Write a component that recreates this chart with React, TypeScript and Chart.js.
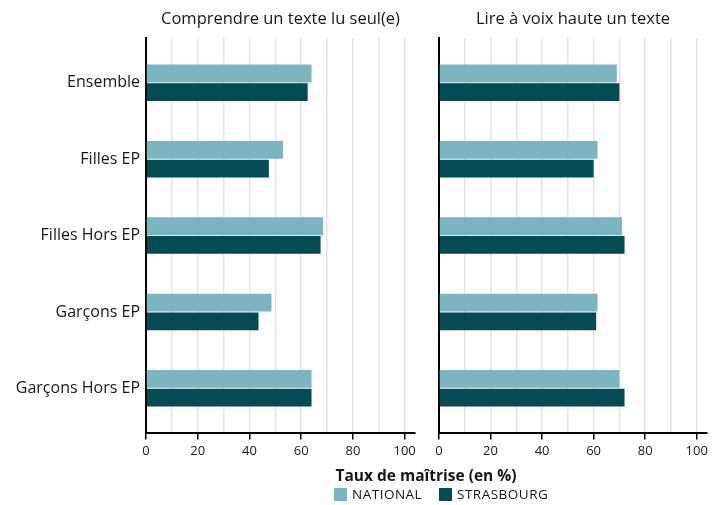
import React, { useEffect, useRef } from "react";
import { Chart, registerables } from "chart.js";

Chart.register(...registerables);

const categories = ["Ensemble", "Filles EP", "Filles Hors EP", "Garçons EP", "Garçons Hors EP"];
const comprendreNational = [64, 53, 68.5, 48.5, 64];
const comprendreStrasbourg = [62.5, 47.5, 67.5, 43.5, 64];
const lireNational = [69, 61.5, 71, 61.5, 70];
const lireStrasbourg = [70, 60, 72, 61, 72];
const xTickValues = [0, 10, 20, 30, 40, 50, 60, 70, 80, 90, 100];
const seriesNames = ["NATIONAL", "STRASBOURG"];
const seriesColors = ["#7ab5c0", "#054b53"];

const FONT = "'Open Sans', 'DejaVu Sans', sans-serif";
const TEXT = "#161616";

type PanelProps = {
  title: string;
  national: number[];
  strasbourg: number[];
  showLabels: boolean;
  left: number;
  width: number;
  yWidth: number;
  padRight: number;
};

function Panel({ title, national, strasbourg, showLabels, left, width, yWidth, padRight }: PanelProps) {
  const ref = useRef<HTMLCanvasElement | null>(null);
  const height = 470;
  useEffect(() => {
    if (!ref.current) return;
    const chart = new Chart(ref.current, {
      type: "bar",
      data: {
        datasets: [
          {
            label: seriesNames[0],
            data: national.map((v, i) => ({ x: v, y: i })),
            backgroundColor: seriesColors[0],
            categoryPercentage: 0.49,
            barPercentage: 0.95,
          },
          {
            label: seriesNames[1],
            data: strasbourg.map((v, i) => ({ x: v, y: i })),
            backgroundColor: seriesColors[1],
            categoryPercentage: 0.49,
            barPercentage: 0.95,
          },
        ],
      },
      options: {
        indexAxis: "y",
        responsive: false,
        animation: false,
        layout: { padding: { left: 0, right: padRight, top: 0, bottom: 7 } },
        plugins: {
          legend: { display: false },
          tooltip: { enabled: false },
          title: {
            display: true,
            text: title,
            fullSize: false,
            color: TEXT,
            font: { family: FONT, size: 16.5, weight: "normal" },
            padding: { top: 9, bottom: 9 },
          },
        },
        scales: {
          x: {
            type: "linear",
            min: 0,
            max: 104,
            afterBuildTicks: (s: any) => {
              s.ticks = xTickValues.map((v) => ({ value: v }));
            },
            ticks: {
              autoSkip: false,
              maxRotation: 0,
              padding: 4,
              color: TEXT,
              font: { family: FONT, size: 13 },
              callback: (v: any) => (Number(v) % 20 === 0 ? String(v) : ""),
            },
            grid: {
              color: "#e4e4e4",
              lineWidth: 1.5,
              tickLength: 6,
              tickWidth: 1.5,
              tickColor: (ctx: any) =>
                ctx.tick && ctx.tick.value % 20 === 0 ? "#000" : "rgba(0,0,0,0)",
            },
            border: { display: true, color: "#000", width: 2 },
          },
          y: {
            type: "linear",
            reverse: true,
            offset: false,
            bounds: "data",
            min: -0.59,
            max: 4.59,
            afterBuildTicks: (s: any) => {
              s.ticks = categories.map((_, i) => ({ value: i }));
            },
            afterFit: (s: any) => {
              s.width = yWidth;
            },
            ticks: {
              display: showLabels,
              autoSkip: false,
              padding: 6,
              color: TEXT,
              font: { family: FONT, size: 16 },
              callback: (v: any) => categories[Number(v)],
            },
            grid: { display: false, drawTicks: false },
            border: { display: true, color: "#000", width: 2 },
          },
        },
      } as any,
    });
    return () => chart.destroy();
  }, []);
  return (
    <canvas
      ref={ref}
      width={width}
      height={height}
      style={{ position: "absolute", left, top: 0, width, height }}
    />
  );
}

export default function App() {
  return (
    <div
      style={{
        position: "absolute",
        left: 0,
        top: 0,
        width: 724,
        height: 505,
        background: "#fff",
        fontFamily: FONT,
        color: TEXT,
      }}
    >
      <Panel
        title="Comprendre un texte lu seul(e)"
        national={comprendreNational}
        strasbourg={comprendreStrasbourg}
        showLabels={true}
        left={0}
        width={430}
        yWidth={146}
        padRight={15}
      />
      <Panel
        title="Lire à voix haute un texte"
        national={lireNational}
        strasbourg={lireStrasbourg}
        showLabels={false}
        left={430}
        width={294}
        yWidth={9}
        padRight={17}
      />
      <div
        style={{
          position: "absolute",
          left: 276,
          width: 300,
          top: 465,
          height: 20,
          lineHeight: "20px",
          textAlign: "center",
          fontWeight: 700,
          fontSize: 15.5,
        }}
      >
        Taux de maîtrise (en %)
      </div>
      {seriesNames.map((name, i) => (
        <div
          key={name}
          style={{
            position: "absolute",
            left: i === 0 ? 334 : 439,
            top: 486,
            height: 17,
            display: "flex",
            alignItems: "center",
            fontSize: 13.5,
            lineHeight: "17px",
            letterSpacing: 0.5,
            whiteSpace: "nowrap",
          }}
        >
          <span
            style={{
              display: "inline-block",
              width: 13,
              height: 13,
              background: seriesColors[i],
              marginRight: 5,
            }}
          />
          {name}
        </div>
      ))}
    </div>
  );
}
